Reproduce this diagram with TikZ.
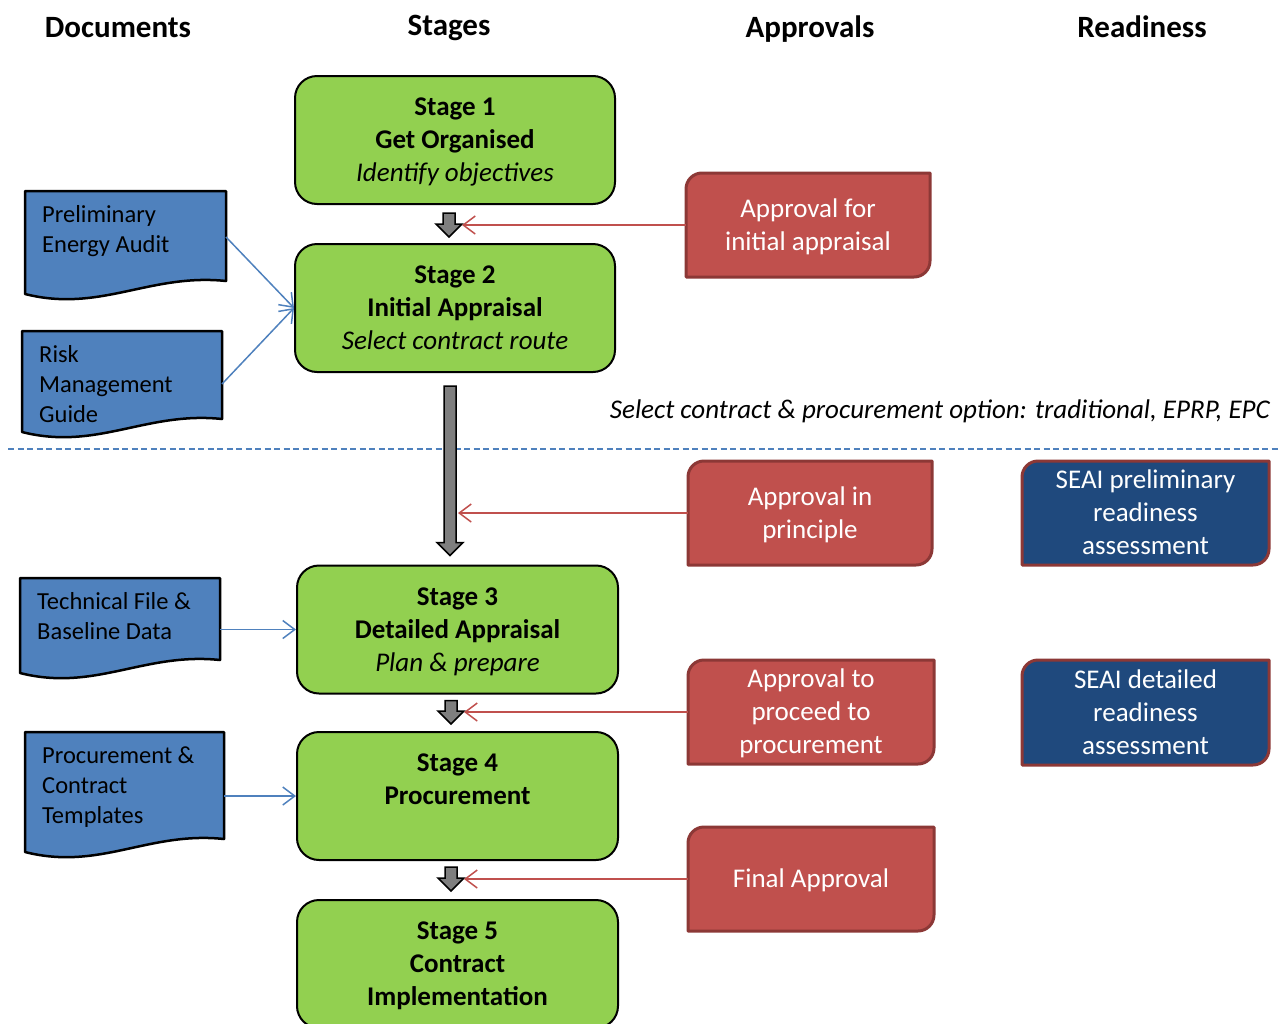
\documentclass[tikz,border=0pt]{standalone}
\usepackage{fontspec}
\setmainfont{Carlito}
\usetikzlibrary{calc,arrows.meta}
\pgfdeclarelayer{bg}
\pgfsetlayers{bg,main}

\definecolor{stagegreen}{HTML}{92D050}
\definecolor{docblue}{HTML}{4F81BD}
\definecolor{apprred}{HTML}{C0504D}
\definecolor{apprline}{HTML}{8C3836}
\definecolor{readyblue}{HTML}{1F497D}
\definecolor{arrowgray}{HTML}{7F7F7F}

% taller first line so that a block of text sits on the box centre
\newcommand\firstln{\rule{0pt}{27.5pt}\strut}

\tikzset{
  header/.style={font=\fontsize{31}{37}\selectfont\bfseries, text height=20pt, text depth=0pt, inner sep=0pt},
  stagebox/.style={draw=black, line width=2pt, fill=stagegreen, rounded corners=22pt,
    minimum width=320pt, minimum height=128pt, align=center, inner sep=0pt,
    font=\fontsize{27}{33}\selectfont},
  snipnode/.style={minimum width=244pt, minimum height=104pt, align=center, text=white,
    inner sep=0pt, outer sep=0pt, font=\fontsize{27}{33}\selectfont},
  docnode/.style={minimum width=200pt, inner sep=0pt, outer sep=0pt},
  doctext/.style={anchor=north west, align=left, inner sep=0pt, font=\fontsize{24.5}{30}\selectfont},
  redarrow/.style={draw=apprred, line width=1.5pt, -{Straight Barb[length=12pt,width=18pt]}},
  bluearrow/.style={draw=docblue, line width=1.5pt, -{Straight Barb[length=12pt,width=18pt]}},
}

% rectangle with rounded top-left and bottom-right corners
\newcommand\snipshape[2]{%
  \draw[line width=3pt, draw=apprline, fill=#2, line join=round]
    ([yshift=-16pt]#1.north west) arc[start angle=180, end angle=90, radius=16pt]
    -- (#1.north east) -- ([yshift=16pt]#1.south east)
    arc[start angle=0, end angle=-90, radius=16pt]
    -- (#1.south west) -- cycle;}

% document sheet with a wavy lower edge
\newcommand\docshape[1]{%
  \draw[draw=black, line width=2.5pt, fill=docblue, line join=round]
    (#1.north west) -- (#1.north east) -- ([yshift=18pt]#1.south east)
    .. controls ([shift={(-76pt,26pt)}]#1.south east) and ([shift={(75pt,-14pt)}]#1.south west)
    .. ([yshift=5pt]#1.south west) -- cycle;}

% grey block arrow pointing down
\newcommand\blockarrow[2]{%
  \draw[fill=arrowgray, draw=black, line width=1.5pt, line join=miter]
    let \p1=(#1), \p2=(#2) in
    (\x1-6pt,\y1) -- (\x1+6pt,\y1) -- (\x1+6pt,\y2+13pt) -- (\x1+13pt,\y2+13pt)
    -- (\x1,\y2) -- (\x1-13pt,\y2+13pt) -- (\x1-6pt,\y2+13pt) -- cycle;}

\begin{document}
\begin{tikzpicture}[x=1pt,y=1pt]
\useasboundingbox (0,-1023) rectangle (1279,0);
\clip (0,-1023) rectangle (1279,0);

% column headings
\node[header] (hdoc) at (118,-27) {Documents};
\node[header] (hstage) at (449,-25) {Stages};
\node[header] (happr) at (810,-27) {Approvals};
\node[header] (hready) at (1142,-27) {Readiness};

% separator
\coordinate (sepL) at (8,-449);
\coordinate (sepR) at (1279,-449);
\draw[docblue, line width=1.5pt, dash pattern=on 6pt off 3.5pt] (sepL) -- (sepR);

% stages
\node[stagebox] (s1) at (455,-140) {\firstln\bfseries Stage 1\\\strut\bfseries Get Organised\\\strut\itshape Identify objectives};
\node[stagebox] (s2) at (455,-308) {\firstln\bfseries Stage 2\\\strut\bfseries Initial Appraisal\\\strut\itshape Select contract route};
\node[stagebox, minimum width=321pt] (s3) at (457.5,-629.5) {\firstln\bfseries Stage 3\\\strut\bfseries Detailed Appraisal\\\strut\itshape Plan \& prepare};
\node[stagebox, minimum width=321pt] (s4) at (457.5,-796) {\firstln\bfseries Stage 4\\\strut\bfseries Procurement\\\strut};
\node[stagebox, minimum width=321pt] (s5) at (457.5,-964) {\firstln\bfseries Stage 5\\\strut\bfseries Contract\\\strut\bfseries Implementation};

% flow between stages
\blockarrow{$(s1.south)+(-6,-8)$}{$(s2.north)+(-6,6)$}
\blockarrow{$(s2.south)+(-5,-13)$}{$(s3.north)+(-7.5,9)$}
\blockarrow{$(s3.south)+(-6.5,-6)$}{$(s4.north)+(0,7)$}
\blockarrow{$(s4.south)+(-6.5,-6)$}{$(s5.north)+(0,8)$}

% approvals
\node[snipnode] (a1) at (808,-225) {\firstln Approval for\\\strut initial appraisal};
\node[snipnode] (a2) at (810,-513) {\firstln Approval in\\\strut principle};
\node[snipnode, minimum width=246pt] (a3) at (811,-712) {\firstln Approval to\\\strut proceed to\\\strut procurement};
\node[snipnode, minimum width=246pt] (a4) at (811,-879) {\firstln Final Approval};

% readiness
\node[snipnode, minimum width=247pt] (r1) at (1145.5,-513) {\firstln SEAI preliminary\\\strut readiness\\\strut assessment};
\node[snipnode, minimum width=247pt, minimum height=105pt] (r2) at (1145.5,-712.5) {\firstln SEAI detailed\\\strut readiness\\\strut assessment};

% documents
\node[docnode, minimum width=201pt, minimum height=108pt] (d1) at (125.5,-245) {};
\node[docnode, minimum height=106pt] (d2) at (122,-384) {};
\node[docnode, minimum height=100pt] (d3) at (120,-628) {};
\node[docnode, minimum width=199pt, minimum height=125pt] (d4) at (124.5,-794.5) {};
\node[doctext] (d1t) at ([shift={(17pt,-14.5pt)}]d1.north west) {Preliminary\\Energy Audit};
\node[doctext] (d2t) at ([shift={(17pt,-14.5pt)}]d2.north west) {Risk\\Management\\Guide};
\node[doctext] (d3t) at ([shift={(17pt,-14.5pt)}]d3.north west) {Technical File \&\\Baseline Data};
\node[doctext] (d4t) at ([shift={(17pt,-14.5pt)}]d4.north west) {Procurement \&\\Contract\\Templates};

\begin{pgfonlayer}{bg}
  \snipshape{a1}{apprred}
  \snipshape{a2}{apprred}
  \snipshape{a3}{apprred}
  \snipshape{a4}{apprred}
  \snipshape{r1}{readyblue}
  \snipshape{r2}{readyblue}
  \docshape{d1}
  \docshape{d2}
  \docshape{d3}
  \docshape{d4}
\end{pgfonlayer}

% approval connectors
\coordinate (j1) at (462,-225);
\coordinate (j2) at (458,-513);
\coordinate (j3) at (464,-712);
\coordinate (j4) at (464,-879);
\draw[redarrow] (a1.west) -- (j1);
\draw[redarrow] (a2.west) -- (j2);
\draw[redarrow] (a3.west) -- (j3);
\draw[redarrow] (a4.west) -- (j4);

% document connectors
\draw[bluearrow] ([yshift=8pt]d1.east) -- (s2.west);
\draw[bluearrow] (d2.east) -- (s2.west);
\draw[bluearrow] (d3.east |- s3.west) -- (s3.west);
\draw[bluearrow] (d4.east |- s4.west) -- (s4.west);

% contract option note
\node[anchor=east, inner sep=0pt, text height=17.4pt, text depth=0pt,
      font=\fontsize{27}{32}\selectfont\itshape] (opt) at (1270,-410)
  {Select contract \& procurement option: traditional, EPRP, EPC};
\end{tikzpicture}
\end{document}
